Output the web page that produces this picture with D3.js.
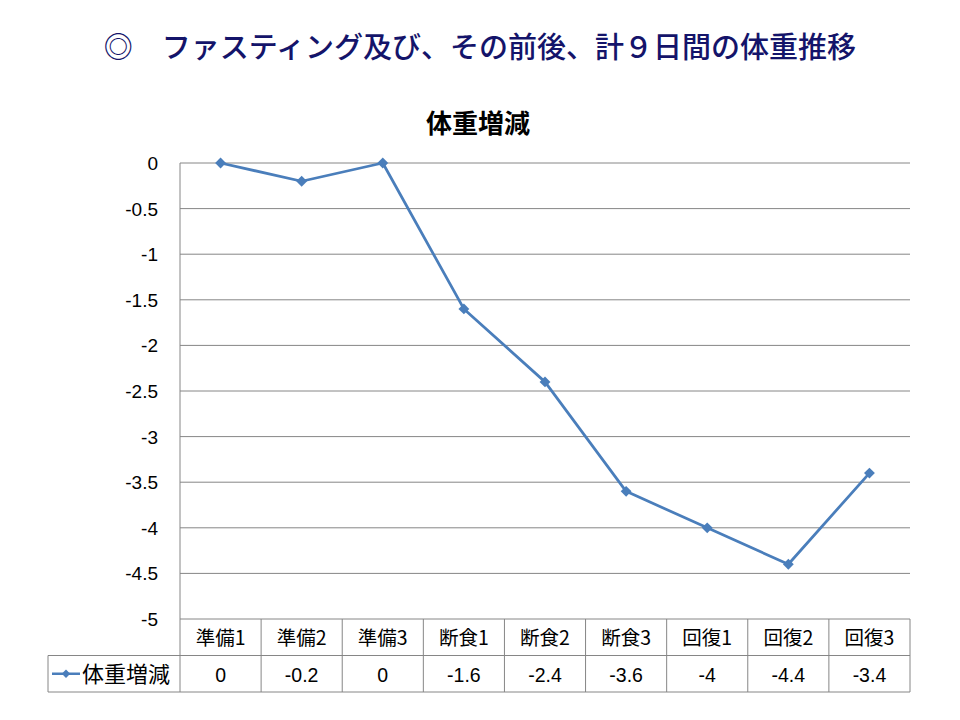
<!DOCTYPE html>
<html>
<head>
<meta charset="utf-8">
<script src="https://cdn.jsdelivr.net/npm/d3@7"></script>
<style>
  body { margin: 0; background: #fff; }
  svg { display: block; }
</style>
</head>
<body>
<svg id="chart" width="960" height="720"></svg>
<script>
// data
const categories = ["準備1","準備2","準備3","断食1","断食2","断食3","回復1","回復2","回復3"];
const weightChange = [0, -0.2, 0, -1.6, -2.4, -3.6, -4, -4.4, -3.4];
const yTicks = [0, -0.5, -1, -1.5, -2, -2.5, -3, -3.5, -4, -4.5, -5];
const seriesName = "体重増減";

const svg = d3.select("#chart");
const jp = "'Noto Sans CJK JP', 'Noto Sans', sans-serif";
const lineColor = "#4A7EBB";
const gridColor = "#868686";

const plotLeft = 180, plotRight = 910, plotTop = 163, plotBottom = 619;
const rowH = 36.5;

const x = d3.scaleBand().domain(categories).range([plotLeft, plotRight]);
const y = d3.scaleLinear().domain([-5, 0]).range([plotBottom, plotTop]);

// page title
svg.append("text")
  .attr("x", 480).attr("y", 58)
  .attr("text-anchor", "middle")
  .style("font-family", jp).style("font-size", "29px").style("font-weight", "500")
  .style("fill", "#14146A")
  .text("◎　ファスティング及び、その前後、計９日間の体重推移");

// chart title
svg.append("text")
  .attr("x", 478).attr("y", 133)
  .attr("text-anchor", "middle")
  .style("font-family", jp).style("font-size", "26px").style("font-weight", "bold")
  .text(seriesName);

// gridlines
svg.append("g").selectAll("line").data(yTicks).join("line")
  .attr("x1", plotLeft).attr("x2", plotRight)
  .attr("y1", d => y(d)).attr("y2", d => y(d))
  .attr("stroke", gridColor).attr("stroke-width", 1);

// y axis line + labels
svg.append("line")
  .attr("x1", plotLeft).attr("x2", plotLeft).attr("y1", plotTop).attr("y2", plotBottom)
  .attr("stroke", gridColor);

svg.append("g").selectAll("text").data(yTicks).join("text")
  .attr("x", 158).attr("y", d => y(d) + 7)
  .attr("text-anchor", "end")
  .style("font-family", "'Liberation Sans', Arial, sans-serif").style("font-size", "19px")
  .text(d => d);

// table grid
const tableG = svg.append("g").attr("stroke", gridColor).attr("stroke-width", 1);
const legendLeft = 48;
tableG.append("line").attr("x1", legendLeft).attr("x2", plotRight).attr("y1", plotBottom + rowH).attr("y2", plotBottom + rowH);
tableG.append("line").attr("x1", legendLeft).attr("x2", plotRight).attr("y1", plotBottom + 2 * rowH).attr("y2", plotBottom + 2 * rowH);
tableG.append("line").attr("x1", legendLeft).attr("x2", legendLeft).attr("y1", plotBottom + rowH).attr("y2", plotBottom + 2 * rowH);
tableG.append("line").attr("x1", plotLeft).attr("x2", plotLeft).attr("y1", plotBottom).attr("y2", plotBottom + 2 * rowH);
tableG.selectAll("line.v").data(categories).join("line")
  .attr("class", "v")
  .attr("x1", d => x(d) + x.bandwidth()).attr("x2", d => x(d) + x.bandwidth())
  .attr("y1", plotBottom).attr("y2", plotBottom + 2 * rowH);

// category labels
svg.append("g").selectAll("text").data(categories).join("text")
  .attr("x", d => x(d) + x.bandwidth() / 2).attr("y", plotBottom + 26)
  .attr("text-anchor", "middle")
  .style("font-family", jp).style("font-size", "19.5px")
  .text(d => d);

// value cells
svg.append("g").selectAll("text").data(weightChange).join("text")
  .attr("x", (d, i) => x(categories[i]) + x.bandwidth() / 2).attr("y", plotBottom + rowH + 26)
  .attr("text-anchor", "middle")
  .style("font-family", "'Liberation Sans', Arial, sans-serif").style("font-size", "19.5px")
  .text(d => d);

// legend key in table
const ly = plotBottom + rowH + rowH / 2;
svg.append("line").attr("x1", 52).attr("x2", 80).attr("y1", ly).attr("y2", ly)
  .attr("stroke", lineColor).attr("stroke-width", 2.5);
svg.append("path").attr("d", d3.symbol(d3.symbolDiamond2, 45))
  .attr("transform", `translate(66,${ly})`).attr("fill", lineColor);
svg.append("text")
  .attr("x", 82).attr("y", ly + 8)
  .style("font-family", jp).style("font-size", "22px")
  .text(seriesName);

// series line
const line = d3.line()
  .x((d, i) => x(categories[i]) + x.bandwidth() / 2)
  .y(d => y(d));

svg.append("path").datum(weightChange)
  .attr("d", line)
  .attr("fill", "none").attr("stroke", lineColor).attr("stroke-width", 2.75)
  .attr("stroke-linejoin", "round");

svg.append("g").selectAll("path").data(weightChange).join("path")
  .attr("d", d3.symbol(d3.symbolDiamond2, 75))
  .attr("transform", (d, i) => `translate(${x(categories[i]) + x.bandwidth() / 2},${y(d)})`)
  .attr("fill", lineColor);
</script>
</body>
</html>
